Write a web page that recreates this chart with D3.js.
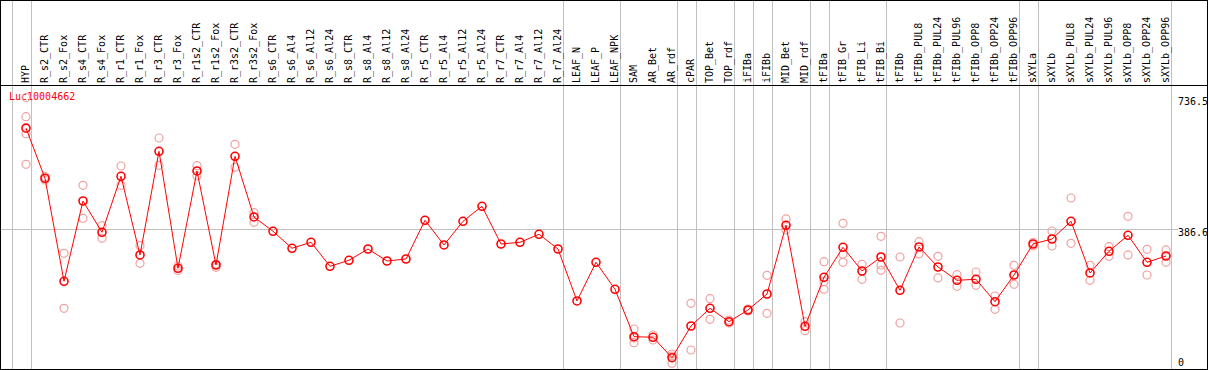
<!DOCTYPE html>
<html lang="en">
<head>
    <meta charset="UTF-8">
    <title>Luc10004662 expression</title>
    <script src="https://d3js.org/d3.v7.min.js"></script>
    <style>
        body {
            margin: 0;
            padding: 0;
            background-color: #fff;
        }
        svg text {
            font-family: "DejaVu Sans Mono", monospace;
            font-size: 10px;
        }
    </style>
</head>
<body>
    <svg id="chart" width="1209" height="370"></svg>

    <script>
        // Sample names, left to right
        const samples = [
            'HYP', 'R_s2_CTR', 'R_s2_Fox', 'R_s4_CTR', 'R_s4_Fox', 'R_r1_CTR', 'R_r1_Fox',
            'R_r3_CTR', 'R_r3_Fox', 'R_r1s2_CTR', 'R_r1s2_Fox', 'R_r3s2_CTR', 'R_r3s2_Fox',
            'R_s6_CTR', 'R_s6_Al4', 'R_s6_Al12', 'R_s6_Al24', 'R_s8_CTR', 'R_s8_Al4',
            'R_s8_Al12', 'R_s8_Al24', 'R_r5_CTR', 'R_r5_Al4', 'R_r5_Al12', 'R_r5_Al24',
            'R_r7_CTR', 'R_r7_Al4', 'R_r7_Al12', 'R_r7_Al24', 'LEAF_N', 'LEAF_P', 'LEAF_NPK',
            'SAM', 'AR_Bet', 'AR_rdf', 'cPAR', 'TOP_Bet', 'TOP_rdf', 'iFIBa', 'iFIBb',
            'MID_Bet', 'MID_rdf', 'tFIBa', 'tFIB_Gr', 'tFIB_Li', 'tFIB_Bi', 'tFIBb',
            'tFIBb_PUL8', 'tFIBb_PUL24', 'tFIBb_PUL96', 'tFIBb_OPP8', 'tFIBb_OPP24', 'tFIBb_OPP96',
            'sXYLa', 'sXYLb', 'sXYLb_PUL8', 'sXYLb_PUL24', 'sXYLb_PUL96', 'sXYLb_OPP8',
            'sXYLb_OPP24', 'sXYLb_OPP96'
        ];

        // Mean expression per sample
        const means = [
            655, 521.6, 247.5, 461.1, 377.9, 526.9, 317.5,
            593.4, 282.1, 541.0, 290.8, 580.1, 418.6,
            380.5, 335.3, 351.3, 287.4, 303.4, 333.4,
            301.5, 306.8, 409.8, 344.1, 407.1, 447.0,
            346.7, 351.3, 372.5, 333.4, 195.1, 298.0, 226.2,
            100.1, 98.5, 44.2, 128.5, 175.6, 140.0, 171.1, 213.7,
            396.5, 127.7, 258.1, 337.9, 274.9, 312.1, 223.5,
            338.7, 285.5, 250.1, 252.8, 193.2, 264.2,
            346.7, 360.0, 407.1, 269.6, 327.3, 369.9,
            298.0, 314.8
        ];

        // Individual replicates per sample (empty = none shown)
        const replicates = [
            [736.5, 685.5, 640.0, 558.8], [526.3, 521.0, 517.0], [322.0, 175.6], [502.9, 415.1],
            [395.4, 361.9], [554.3, 502.9], [342.2, 295.4],
            [628.8, 556.1], [288.2, 276.2], [555.1, 527.7], [293.5, 284.7], [612.0, 550.8], [430.0, 404.5],
            [], [], [], [], [], [],
            [], [], [], [], [], [],
            [], [], [], [], [], [], [],
            [120.5, 96.6, 84.1], [104.6, 91.3], [54.0, 48.7, 29.3], [188.9, 64.7], [201.2, 146.4],
            [144.5, 136.5], [173.8, 168.4], [263.4, 162.3],
            [413.3, 384.0], [140.0, 116.0], [299.6, 246.4, 226.2], [401.8, 319.3, 298.0],
            [292.7, 252.8], [367.2, 290.8, 276.7], [312.1, 136.5],
            [352.8, 320.9], [314.0, 256.3], [265.0, 234.2], [272.2, 236.8], [208.4, 173.0], [290.0, 239.5],
            [350.7, 341.4], [381.3, 341.4], [469.1, 348.6], [290.0, 250.1], [339.5, 314.0], [420.4, 317.5],
            [332.6, 264.2], [330.8, 298.0]
        ];

        // Group separators: grey line after these sample indices
        const groupEnds = [-1, 0, 28, 31, 34, 35, 37, 38, 39, 41, 42, 45, 52, 53, 60];

        const yTicks = [736.5, 386.6, 0];
        const probeName = 'Luc10004662';

        const W = 1208;
        const H = 370;
        const headerBottom = 85;

        const svg = d3.select('#chart');

        const x = d3.scaleLinear()
            .domain([0, samples.length - 1])
            .range([26, 1166]);
        const step = x(1) - x(0);

        const y = d3.scaleLinear()
            .domain([0, 736.5])
            .range([374.3, 97.5]);

        // vertical group lines
        svg.selectAll('.vgrid')
            .data(groupEnds)
            .enter()
            .append('line')
            .attr('x1', d => Math.round(x(d) + 4.7) + 0.5)
            .attr('x2', d => Math.round(x(d) + 4.7) + 0.5)
            .attr('y1', 0)
            .attr('y2', 369)
            .attr('stroke', '#c0c0c0');

        // horizontal line at the middle tick
        svg.append('line')
            .attr('x1', 0)
            .attr('x2', 1178)
            .attr('y1', Math.round(y(386.6)) + 0.5)
            .attr('y2', Math.round(y(386.6)) + 0.5)
            .attr('stroke', '#c0c0c0');

        // header separator + frame
        svg.append('line')
            .attr('x1', 0).attr('x2', W)
            .attr('y1', headerBottom + 0.5).attr('y2', headerBottom + 0.5)
            .attr('stroke', '#000');
        svg.append('rect')
            .attr('x', 0.5).attr('y', 0.5)
            .attr('width', W - 1).attr('height', 369)
            .attr('fill', 'none')
            .attr('stroke', '#000');

        // sample labels, rotated
        svg.selectAll('.lab')
            .data(samples)
            .enter()
            .append('text')
            .attr('transform', (d, i) => `translate(${x(i) + 3},${headerBottom - 2}) rotate(-90)`)
            .attr('fill', '#000')
            .text(d => d);

        // right-hand value labels
        svg.selectAll('.ytick')
            .data(yTicks)
            .enter()
            .append('text')
            .attr('x', 1178)
            .attr('y', d => Math.min(y(d) + 7, 366))
            .attr('fill', '#000')
            .text(d => d);

        // probe name
        svg.append('text')
            .attr('x', 9)
            .attr('y', 100)
            .attr('fill', 'red')
            .text(probeName);

        // replicate dots
        const reps = [];
        replicates.forEach((r, i) => r.forEach(v => reps.push({i, v})));
        svg.selectAll('.rep')
            .data(reps)
            .enter()
            .append('circle')
            .attr('cx', d => x(d.i))
            .attr('cy', d => y(d.v))
            .attr('r', 4)
            .attr('fill', 'none')
            .attr('stroke', '#f0a0a0')
            .attr('stroke-width', 1.2);

        // mean line
        const line = d3.line()
            .x((d, i) => x(i))
            .y(d => y(d));
        svg.append('path')
            .datum(means)
            .attr('d', line)
            .attr('fill', 'none')
            .attr('stroke', 'red')
            .attr('stroke-width', 1);

        // mean dots
        svg.selectAll('.mean')
            .data(means)
            .enter()
            .append('circle')
            .attr('cx', (d, i) => x(i))
            .attr('cy', d => y(d))
            .attr('r', 4)
            .attr('fill', 'none')
            .attr('stroke', 'red')
            .attr('stroke-width', 1.6);
    </script>
</body>
</html>
